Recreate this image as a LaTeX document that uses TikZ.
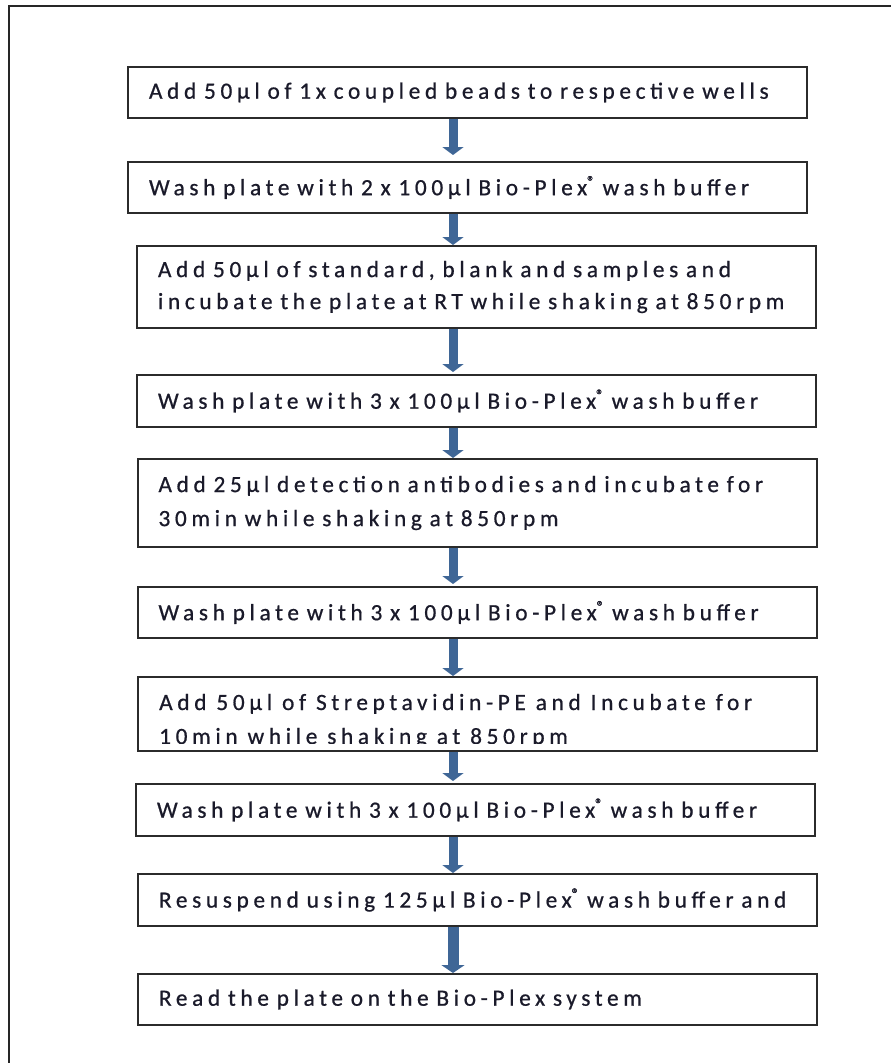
\documentclass[tikz,border=0pt]{standalone}
\usepackage{fontspec}
\setmainfont{Carlito}[LetterSpace=20, FakeBold=0.7]
\usetikzlibrary{arrows.meta}
\definecolor{flowblue}{HTML}{3F6696}
\definecolor{boxline}{HTML}{2B2B2B}
\definecolor{inktext}{HTML}{1A1A2A}
\newcommand{\regmark}{\raisebox{0.38em}{\fontsize{15pt}{15pt}\selectfont ®}}
\begin{document}
\begin{tikzpicture}[x=1pt,y=-1pt,
  stepbox/.style={draw=boxline, line width=2pt, fill=white,
    minimum width=679pt, minimum height=#1, inner xsep=21pt, inner ysep=0pt,
    text width=637pt, align=left, text=inktext,
    font=\fontsize{23.3pt}{34pt}\selectfont},
  steptext/.style={anchor=base west, inner sep=0pt, text=inktext,
    font=\fontsize{23.3pt}{34pt}\selectfont},
  flowarrow/.style={draw=flowblue, line width=9pt,
    -{Triangle[width=21pt,length=8pt]}},
  widearrow/.style={draw=flowblue, line width=11pt,
    -{Triangle[width=23pt,length=8pt]}}]
\useasboundingbox (0,0) rectangle (891,1063);
% outer frame (only top and left edges fall inside the picture)
\draw[line width=2pt, draw=black!85] (9,1080) -- (9,6) -- (905,6);
\coordinate (ax) at (453,0);
% boxes
\node[stepbox=51pt] (b1) at (467.5,92.5) {Add 50µl of 1x coupled beads to respective wells};
\node[stepbox=51pt] (b2) at (467.5,187.5) {Wash plate with 2 x 100µl Bio-Plex\regmark{} wash buffer};
\node[stepbox=82pt, font=\fontsize{23.3pt}{32pt}\selectfont] (b3) at (476.5,287) {Add 50µl of standard, blank and samples and\\incubate the plate at RT while shaking at 850rpm};
\node[stepbox=52pt] (b4) at (476.5,401) {Wash plate with 3 x 100µl Bio-Plex\regmark{} wash buffer};
\node[stepbox=88pt] (b5) at (477,503) {Add 25µl detection antibodies and incubate for\\30min while shaking at 850rpm};
\node[stepbox=51pt] (b6) at (477,612.5) {Wash plate with 3 x 100µl Bio-Plex\regmark{} wash buffer};
\node[stepbox=74pt] (b7) at (477,714) {};
\begin{scope}
  \clip (140,679) rectangle (815,743);
  \node[steptext] (b7a) at (159,710) {Add 50µl of Streptavidin-PE and Incubate for};
  \node[steptext] (b7b) at (159,744) {10min while shaking at 850rpm};
\end{scope}
\node[stepbox=52pt] (b8) at (475.5,810) {Wash plate with 3 x 100µl Bio-Plex\regmark{} wash buffer};
\node[stepbox=52pt] (b9) at (477.5,900) {Resuspend using 125µl Bio-Plex\regmark{} wash buffer and};
\node[stepbox=51pt] (b10) at (477.5,999.5) {Read the plate on the Bio-Plex system};
% connectors
\draw[flowarrow, shorten >=6pt] (b1.south -| ax) -- (b2.north -| ax);
\draw[flowarrow] (b2.south -| ax) -- (b3.north -| ax);
\draw[flowarrow, shorten >=2pt] (b3.south -| ax) -- (b4.north -| ax);
\draw[flowarrow] (b4.south -| ax) -- (b5.north -| ax);
\draw[flowarrow, shorten >=2pt] (b5.south -| ax) -- (b6.north -| ax);
\draw[flowarrow] (b6.south -| ax) -- (b7.north -| ax);
\draw[flowarrow, shorten >=2pt] (b7.south -| ax) -- (b8.north -| ax);
\draw[flowarrow] (b8.south -| ax) -- (b9.north -| ax);
\draw[widearrow] (b9.south -| ax) -- (b10.north -| ax);
\end{tikzpicture}
\end{document}
